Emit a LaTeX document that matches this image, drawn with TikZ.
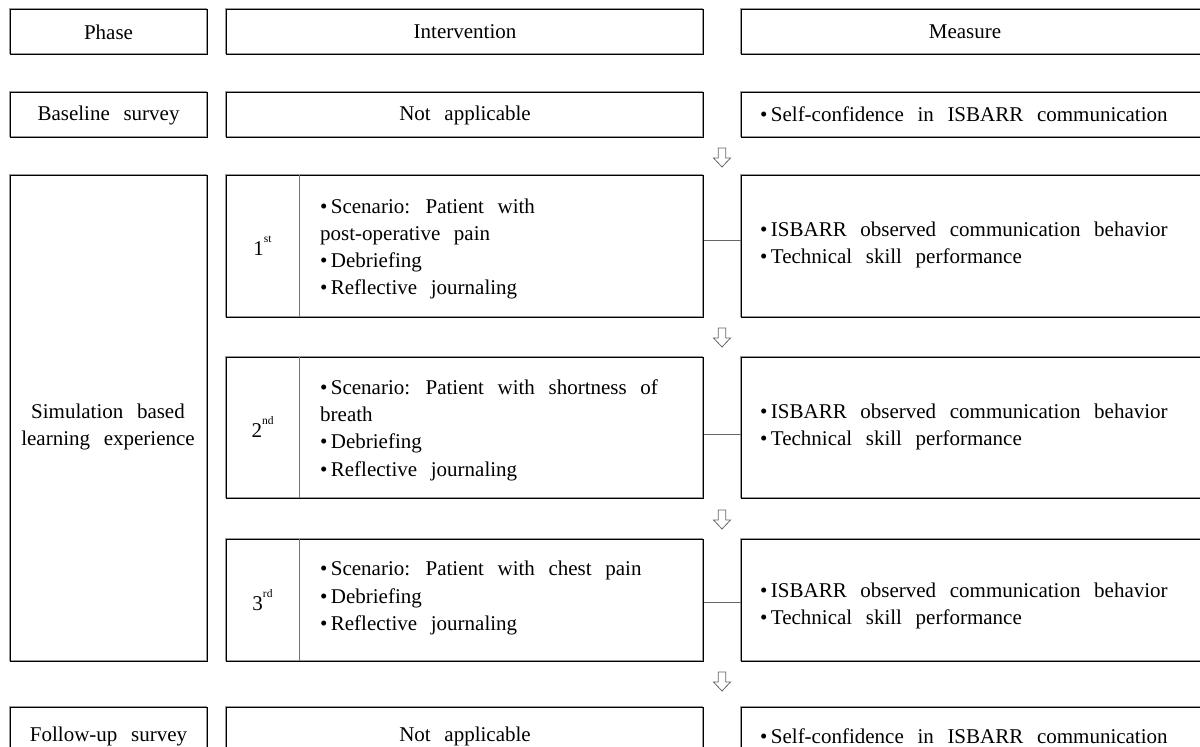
\documentclass[tikz,border=0pt]{standalone}
\usepackage{fontspec}
\setmainfont{Liberation Serif}[WordSpace=2.6]
\newcommand{\bul}{\textbullet\hspace{0.16em}}
\newcommand{\supx}[1]{\raisebox{0.62em}{\fontsize{11.5}{12}\selectfont #1}}
\begin{document}
\begin{tikzpicture}[x=1pt,y=-1pt,
  font=\fontsize{21}{27.3}\selectfont,
  box/.style={draw=black, line width=1.1pt, inner sep=0pt, anchor=north west,
    preaction={draw=black!40, line width=1pt, transform canvas={xshift=-0.9pt,yshift=0.9pt}}},
  txt/.style={inner sep=0pt, align=left, anchor=west},
  lbl/.style={inner sep=0pt},
  divider/.style={draw=black!55, line width=1pt},
  conn/.style={draw=black!60, line width=1.1pt},
  downarrow/.pic={\draw[black!60, line width=0.8pt, fill=white]
     (-3.7,0) -- (3.7,0) -- (3.7,10) -- (8.5,10) -- (0,19) -- (-8.5,10) -- (-3.7,10) -- cycle;}
]
\useasboundingbox (0,0) rectangle (1200,747);
\clip (0,0) rectangle (1200,747);

% header
\node[box, minimum width=197pt, minimum height=45pt] (hp) at (9.5,9) {Phase};
\node[box, minimum width=477pt, minimum height=45pt] (hi) at (226,9) {Intervention};
\node[box, minimum width=460pt, minimum height=45pt] (hm) at (741,9) {};
\node[lbl] (hmt) at (965,31.5) {Measure};

% baseline
\node[box, minimum width=197pt, minimum height=45pt] (bp) at (9.5,92) {Baseline survey};
\node[box, minimum width=477pt, minimum height=45pt] (bi) at (226,92) {Not applicable};
\node[box, minimum width=460pt, minimum height=45pt] (bm) at (741,92) {};
\node[txt] (bmt) at (760,114.5) {\bul Self-confidence in ISBARR communication};

% simulation
\node[box, minimum width=197pt, minimum height=486pt] (sp) at (9.5,175) {};
\node[lbl, align=center] (spt) at (108,427) {Simulation based\\learning experience};

% 1st
\node[box, minimum width=477pt, minimum height=142pt] (i1) at (226,175) {};
\draw[divider] (299,175) -- (299,317);
\node[lbl] (l1) at (262.5,246) {1\supx{st}};
\node[txt] (t1) at (320,249) {\bul Scenario: Patient with\\post-operative pain\\\bul Debriefing\\\bul Reflective journaling};
\node[box, minimum width=460pt, minimum height=142pt] (m1) at (741,175) {};
\node[txt] (mt1) at (760,245) {\bul ISBARR observed communication behavior\\\bul Technical skill performance};
\draw[conn] ([yshift=6pt]i1.east) -- ([yshift=6pt]m1.west);

% 2nd
\node[box, minimum width=477pt, minimum height=141pt] (i2) at (226,357) {};
\draw[divider] (299,357) -- (299,498);
\node[lbl] (l2) at (262.5,427) {2\supx{nd}};
\node[txt] (t2) at (320,430) {\bul Scenario: Patient with shortness of\\breath\\\bul Debriefing\\\bul Reflective journaling};
\node[box, minimum width=460pt, minimum height=141pt] (m2) at (741,357) {};
\node[txt] (mt2) at (760,427) {\bul ISBARR observed communication behavior\\\bul Technical skill performance};
\draw[conn] ([yshift=-6pt]i2.east) -- ([yshift=-6pt]m2.west);

% 3rd
\node[box, minimum width=477pt, minimum height=122pt] (i3) at (226,539) {};
\draw[divider] (299,539) -- (299,661);
\node[lbl] (l3) at (262.5,600) {3\supx{rd}};
\node[txt] (t3) at (320,598) {\bul Scenario: Patient with chest pain\\\bul Debriefing\\\bul Reflective journaling};
\node[box, minimum width=460pt, minimum height=122pt] (m3) at (741,539) {};
\node[txt] (mt3) at (760,606) {\bul ISBARR observed communication behavior\\\bul Technical skill performance};
\draw[conn] ([yshift=-2pt]i3.east) -- ([yshift=-2pt]m3.west);

% follow-up
\node[box, minimum width=197pt, minimum height=58pt] (fp) at (9.5,707) {Follow-up survey};
\node[box, minimum width=477pt, minimum height=58pt] (fi) at (226,707) {Not applicable};
\node[box, minimum width=460pt, minimum height=58pt] (fm) at (741,707) {};
\node[txt] (fmt) at (760,736) {\bul Self-confidence in ISBARR communication};

% arrows
\pic at (722,148) {downarrow};
\pic at (722,328) {downarrow};
\pic at (722,510) {downarrow};
\pic at (722,672) {downarrow};
\end{tikzpicture}
\end{document}
